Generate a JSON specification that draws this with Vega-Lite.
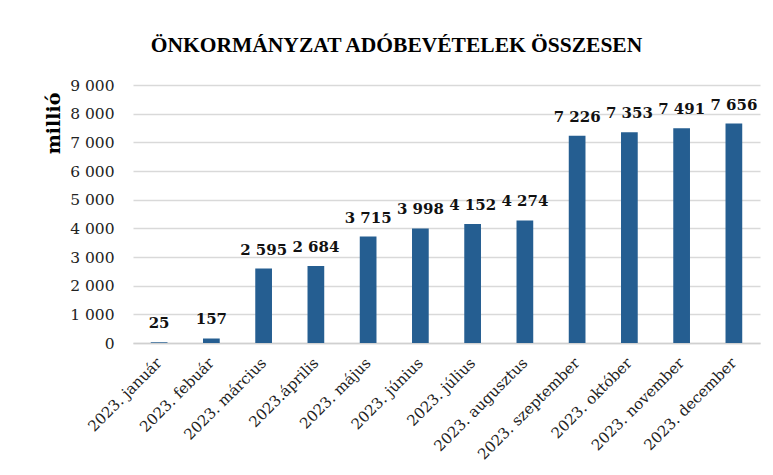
{
  "$schema": "https://vega.github.io/schema/vega-lite/v6.json",
  "width": 627,
  "height": 258,
  "autosize": "none",
  "padding": {"left": 133, "top": 85, "right": 13, "bottom": 132},
  "background": "white",
  "config": {
    "locale": {"number": {"decimal": ",", "thousands": " ", "grouping": [3], "currency": ["", " Ft"]}},
    "view": {"stroke": null},
    "font": "DejaVu Serif"
  },
  "title": {
    "text": "ÖNKORMÁNYZAT ADÓBEVÉTELEK ÖSSZESEN",
    "font": "Liberation Serif",
    "fontSize": 21.5,
    "fontWeight": "bold",
    "color": "#000000",
    "anchor": "middle",
    "dx": -50,
    "offset": 22
  },
  "data": {
    "values": [
      {"honap": "2023. január", "ertek": 25},
      {"honap": "2023. febuár", "ertek": 157},
      {"honap": "2023. március", "ertek": 2595},
      {"honap": "2023.április", "ertek": 2684},
      {"honap": "2023. május", "ertek": 3715},
      {"honap": "2023. június", "ertek": 3998},
      {"honap": "2023. július", "ertek": 4152},
      {"honap": "2023. augusztus", "ertek": 4274},
      {"honap": "2023. szeptember", "ertek": 7226},
      {"honap": "2023. október", "ertek": 7353},
      {"honap": "2023. november", "ertek": 7491},
      {"honap": "2023. december", "ertek": 7656}
    ]
  },
  "encoding": {
    "x": {
      "field": "honap",
      "type": "nominal",
      "sort": null,
      "scale": {"paddingInner": 0.68, "paddingOuter": 0.34},
      "axis": {
        "title": null,
        "labelAngle": -45,
        "labelAlign": "right",
        "labelBaseline": "middle",
        "labelFont": "DejaVu Serif",
        "labelFontSize": 15,
        "labelColor": "#222222",
        "labelPadding": 17,
        "ticks": false,
        "domainColor": "#d0d0d0",
        "domainWidth": 1.5
      }
    },
    "y": {
      "field": "ertek",
      "type": "quantitative",
      "scale": {"domain": [0, 9000], "nice": false},
      "axis": {
        "values": [0, 1000, 2000, 3000, 4000, 5000, 6000, 7000, 8000, 9000],
        "format": ",d",
        "title": "millió",
        "titleFont": "DejaVu Serif",
        "titleFontSize": 19,
        "titleFontWeight": "bold",
        "titleColor": "#000000",
        "titleAngle": -90,
        "titleX": -80,
        "titleY": 38,
        "titleAlign": "center",
        "titleBaseline": "middle",
        "labelFont": "DejaVu Serif",
        "labelFontSize": 15.5,
        "labelColor": "#222222",
        "labelPadding": 19,
        "ticks": false,
        "domain": false,
        "gridColor": "#d9d9d9",
        "gridWidth": 1.5
      }
    }
  },
  "layer": [
    {"mark": {"type": "bar", "color": "#255E91"}},
    {
      "mark": {"type": "text", "baseline": "alphabetic", "dy": -14, "font": "DejaVu Serif", "fontSize": 15, "fontWeight": "bold", "color": "#111111"},
      "encoding": {"text": {"field": "ertek", "type": "quantitative", "format": ",d"}}
    }
  ]
}
